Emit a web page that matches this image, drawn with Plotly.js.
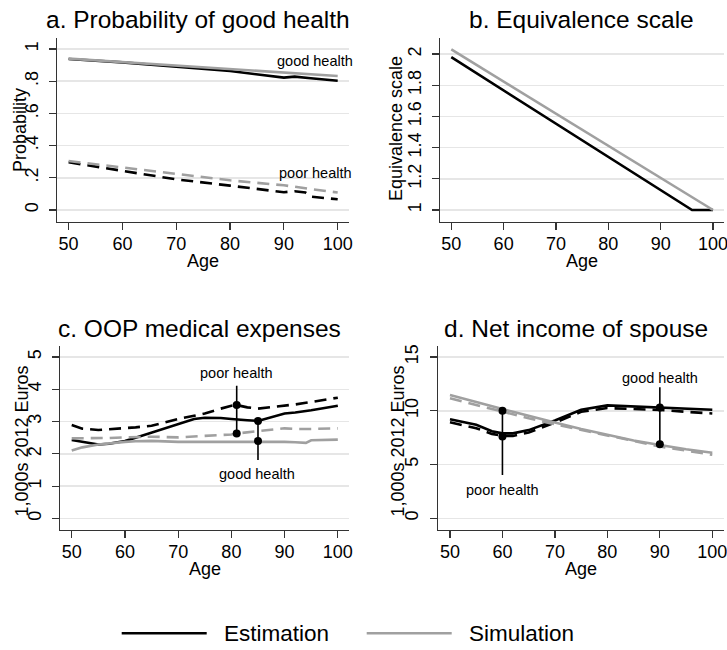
<!DOCTYPE html>
<html>
<head>
<meta charset="utf-8">
<script src="https://cdn.plot.ly/plotly-3.0.1.min.js"></script>
<style>
  html, body { margin: 0; padding: 0; background: #fff; }
  #chart { width: 727px; height: 650px; }
</style>
</head>
<body>
<div id="chart"></div>
<script>
// ---- a. Probability of good health ----
const ageA = [50, 60, 70, 80, 90, 92, 95, 100];
const probGoodEst = [0.938, 0.917, 0.89, 0.863, 0.822, 0.828, 0.818, 0.803];
const probGoodSim = [0.940, 0.918, 0.895, 0.872, 0.853, 0.848, 0.842, 0.832];
const ageAPoor = [50, 60, 70, 80, 90, 92, 94, 95, 100];
const probPoorEst = [0.296, 0.244, 0.19, 0.151, 0.11, 0.116, 0.108, 0.083, 0.066];
const probPoorSim = [0.304, 0.263, 0.222, 0.184, 0.153, 0.146, 0.135, 0.130, 0.108];

// ---- b. Equivalence scale ----
const ageBEst = [50, 96, 100];
const eqScaleEst = [1.98, 1.0, 1.0];
const ageBSim = [50, 100];
const eqScaleSim = [2.03, 1.0];

// ---- c. OOP medical expenses (1,000s 2012 Euros) ----
const ageC = [50, 52, 55, 57, 60, 62, 65, 70, 73, 75, 78, 80, 81, 83, 85, 88, 90, 92, 94, 95, 100];
const oopGoodEst = [2.43, 2.38, 2.29, 2.31, 2.40, 2.50, 2.66, 2.94, 3.08, 3.12, 3.11, 3.08, 3.06, 3.04, 3.02, 3.17, 3.25, 3.28, 3.32, 3.35, 3.49];
const oopPoorEst = [2.89, 2.78, 2.74, 2.76, 2.80, 2.82, 2.87, 3.08, 3.18, 3.25, 3.40, 3.49, 3.51, 3.44, 3.40, 3.45, 3.50, 3.53, 3.58, 3.61, 3.74];
const oopGoodSim = [2.10, 2.20, 2.29, 2.33, 2.37, 2.39, 2.40, 2.37, 2.37, 2.37, 2.37, 2.37, 2.38, 2.39, 2.39, 2.38, 2.37, 2.36, 2.34, 2.42, 2.44];
const oopPoorSim = [2.48, 2.48, 2.48, 2.49, 2.51, 2.52, 2.53, 2.51, 2.53, 2.55, 2.58, 2.60, 2.63, 2.67, 2.71, 2.75, 2.79, 2.77, 2.76, 2.77, 2.79];
// gap markers between estimation and simulation: vertical rule plus two dots
const oopPoorGap = { age: 81, top: 4.11, bottom: 2.63, dots: [3.51, 2.63] };
const oopGoodGap = { age: 85, top: 3.02, bottom: 1.81, dots: [3.02, 2.40] };

// ---- d. Net income of spouse (1,000s 2012 Euros) ----
const ageD = [50, 55, 58, 60, 62, 65, 70, 75, 80, 85, 90, 95, 100];
const incGoodEst = [9.21, 8.69, 8.10, 7.90, 7.90, 8.20, 9.10, 10.10, 10.50, 10.40, 10.30, 10.20, 10.10];
const incPoorEst = [8.93, 8.38, 7.85, 7.66, 7.66, 7.97, 8.90, 9.90, 10.25, 10.15, 10.07, 9.90, 9.75];
const incGoodSim = [11.47, 10.85, 10.45, 10.16, 9.90, 9.50, 8.90, 8.30, 7.75, 7.23, 6.82, 6.42, 6.10];
const incPoorSim = [11.16, 10.54, 10.16, 9.92, 9.66, 9.30, 8.74, 8.22, 7.66, 7.13, 6.67, 6.30, 5.90];
const incPoorGap = { age: 60, top: 10.0, bottom: 4.03, dots: [10.0, 7.6] };
const incGoodGap = { age: 90, top: 12.19, bottom: 6.88, dots: [10.3, 6.88] };

// ---- tick labels ----
const ageTicks = [50, 60, 70, 80, 90, 100];
const ageTickText = ['50', '60', '70', '80', '90', '100'];
const probTicks = [0, 0.2, 0.4, 0.6, 0.8, 1];
const probTickText = ['0', '.2', '.4', '.6', '.8', '1'];
const eqTicks = [1, 1.2, 1.4, 1.6, 1.8, 2];
const eqTickText = ['1', '1.2', '1.4', '1.6', '1.8', '2'];
const oopTicks = [0, 1, 2, 3, 4, 5];
const oopTickText = ['0', '1', '2', '3', '4', '5'];
const incTicks = [0, 5, 10, 15];
const incTickText = ['0', '5', '10', '15'];

const FONT = 'Liberation Sans, Arial, Helvetica, sans-serif';
const BLACK = '#000000';
const GREY = '#a0a0a0';
const DASH = '12px,7px';
const LW = 2.6;

function line(x, y, color, dash, xa, ya) {
  return {
    type: 'scatter', mode: 'lines', x: x, y: y,
    xaxis: xa, yaxis: ya, hoverinfo: 'skip', showlegend: false,
    line: { color: color, width: LW, dash: dash || 'solid' }
  };
}

function gap(g, xa, ya) {
  return [
    { type: 'scatter', mode: 'lines', x: [g.age, g.age], y: [g.top, g.bottom],
      xaxis: xa, yaxis: ya, showlegend: false, hoverinfo: 'skip',
      line: { color: BLACK, width: 1.6 } },
    { type: 'scatter', mode: 'markers', x: g.dots.map(() => g.age), y: g.dots,
      xaxis: xa, yaxis: ya, showlegend: false, hoverinfo: 'skip',
      marker: { color: BLACK, size: 8 } }
  ];
}

// estimation first, simulation drawn over it
const traces = [
  line(ageA, probGoodEst, BLACK, null, 'x', 'y'),
  line(ageAPoor, probPoorEst, BLACK, DASH, 'x', 'y'),
  line(ageA, probGoodSim, GREY, null, 'x', 'y'),
  line(ageAPoor, probPoorSim, GREY, DASH, 'x', 'y'),

  line(ageBEst, eqScaleEst, BLACK, null, 'x2', 'y2'),
  line(ageBSim, eqScaleSim, GREY, null, 'x2', 'y2'),

  line(ageC, oopGoodEst, BLACK, null, 'x3', 'y3'),
  line(ageC, oopPoorEst, BLACK, DASH, 'x3', 'y3'),
  line(ageC, oopGoodSim, GREY, null, 'x3', 'y3'),
  line(ageC, oopPoorSim, GREY, DASH, 'x3', 'y3'),
  ...gap(oopPoorGap, 'x3', 'y3'),
  ...gap(oopGoodGap, 'x3', 'y3'),

  line(ageD, incGoodEst, BLACK, null, 'x4', 'y4'),
  line(ageD, incPoorEst, BLACK, DASH, 'x4', 'y4'),
  line(ageD, incGoodSim, GREY, null, 'x4', 'y4'),
  line(ageD, incPoorSim, GREY, DASH, 'x4', 'y4'),
  ...gap(incPoorGap, 'x4', 'y4'),
  ...gap(incGoodGap, 'x4', 'y4')
];

// pixel helpers for a 727 x 650 page with zero margins
const W = 727, H = 650;
const px = v => v / W;
const py = v => 1 - v / H;

function xAxis(dom, range, anchor) {
  return {
    domain: dom, range: range, anchor: anchor,
    tickvals: ageTicks, ticktext: ageTickText,
    ticks: 'outside', ticklen: 7, tickwidth: 1.2, tickcolor: '#333',
    ticklabelstandoff: -2, ticklabeloverflow: 'allow',
    showline: true, linecolor: '#333', linewidth: 1.2,
    showgrid: false, zeroline: false,
    tickfont: { family: FONT, size: 18, color: '#000' }
  };
}
function yAxis(dom, range, anchor, vals, text) {
  return {
    domain: dom, range: range, anchor: anchor,
    tickvals: vals, ticktext: text, tickangle: -90,
    ticks: 'outside', ticklen: 7, tickwidth: 1.2, tickcolor: '#333',
    ticklabelstandoff: 4, ticklabeloverflow: 'allow',
    showline: true, linecolor: '#333', linewidth: 1.2,
    showgrid: true, gridcolor: '#e6e6e6', gridwidth: 1.5, zeroline: false,
    tickfont: { family: FONT, size: 18, color: '#000' }
  };
}

const topDom = [py(221.7), py(37.7)];
const botDom = [py(530), py(345.7)];

function text(t, x, y, size, extra) {
  return Object.assign({
    text: t, x: x, y: y, xref: 'paper', yref: 'paper',
    showarrow: false, xanchor: 'center', yanchor: 'middle',
    font: { family: FONT, size: size, color: '#000' }
  }, extra || {});
}
function dataText(t, x, y, xr, yr) {
  return {
    text: t, x: x, y: y, xref: xr, yref: yr, showarrow: false,
    xanchor: 'center', yanchor: 'middle',
    font: { family: FONT, size: 14.5, color: '#000' }
  };
}

const annotations = [
  // panel titles
  text('a. Probability of good health', px(198), py(19), 24.5),
  text('b. Equivalence scale', px(581), py(19), 24.5),
  text('c. OOP medical expenses', px(199), py(328), 24.5),
  text('d. Net income of spouse', px(576), py(328), 24.5),
  // y axis titles
  text('Probability', px(20), py(130), 18, { textangle: -90 }),
  text('Equivalence scale', px(395.5), py(128.5), 18, { textangle: -90 }),
  text('1,000s 2012 Euros', px(21.5), py(441), 18, { textangle: -90 }),
  text('1,000s 2012 Euros', px(397.5), py(441), 18, { textangle: -90 }),
  // x axis titles
  text('Age', px(203), py(261), 18),
  text('Age', px(582), py(261), 18),
  text('Age', px(204.5), py(569), 18),
  text('Age', px(581), py(569), 18),
  // series labels
  dataText('good health', 95.8, 0.927, 'x', 'y'),
  dataText('poor health', 95.8, 0.228, 'x', 'y'),
  dataText('poor health', 81, 4.49, 'x3', 'y3'),
  dataText('good health', 84.8, 1.37, 'x3', 'y3'),
  dataText('poor health', 60, 2.63, 'x4', 'y4'),
  dataText('good health', 90, 13.08, 'x4', 'y4'),
  // legend
  text('Estimation', px(222), py(633), 22.5, { xanchor: 'left' }),
  text('Simulation', px(467), py(633), 22.5, { xanchor: 'left' })
];

const shapes = [
  { type: 'line', xref: 'paper', yref: 'paper', x0: px(121.7), x1: px(206.7), y0: py(633.3), y1: py(633.3),
    line: { color: BLACK, width: LW } },
  { type: 'line', xref: 'paper', yref: 'paper', x0: px(366.7), x1: px(451.7), y0: py(633.3), y1: py(633.3),
    line: { color: GREY, width: LW } }
];

const layout = {
  width: W, height: H,
  margin: { l: 0, r: 0, t: 0, b: 0 },
  paper_bgcolor: '#fff', plot_bgcolor: '#fff',
  showlegend: false,
  font: { family: FONT, color: '#000' },
  xaxis: xAxis([px(57.3), px(349)], [47.9, 102.1], 'y'),
  yaxis: yAxis(topDom, [-0.073, 1.07], 'x', probTicks, probTickText),
  xaxis2: xAxis([px(440.3), px(724)], [47.9, 102.1], 'y2'),
  yaxis2: yAxis(topDom, [0.925, 2.105], 'x2', eqTicks, eqTickText),
  xaxis3: xAxis([px(60), px(349)], [47.8, 102.1], 'y3'),
  yaxis3: yAxis(botDom, [-0.36, 5.35], 'x3', oopTicks, oopTickText),
  xaxis4: xAxis([px(437.7), px(724)], [47.66, 102.23], 'y4'),
  yaxis4: yAxis(botDom, [-1.09, 16.05], 'x4', incTicks, incTickText),
  annotations: annotations,
  shapes: shapes
};

Plotly.newPlot('chart', traces, layout, { staticPlot: true, displayModeBar: false });
</script>
</body>
</html>
